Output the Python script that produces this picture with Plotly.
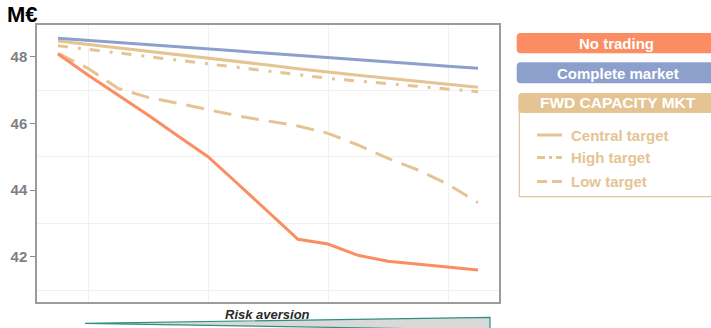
import plotly.graph_objects as go

# Risk-aversion steps along the x axis (unlabelled)
risk_levels = list(range(1, 16))

# Expected profit, M€
no_trading = [48.08, 47.45, 46.85, 46.25, 45.62, 45.00, 44.18, 43.35,
              42.52, 42.38, 42.04, 41.86, 41.78, 41.69, 41.60]
complete_market = [48.55, 48.49, 48.43, 48.36, 48.30, 48.23, 48.17, 48.10,
                   48.04, 47.97, 47.91, 47.84, 47.78, 47.71, 47.65]
central_target = [48.47, 48.37, 48.26, 48.16, 48.05, 47.95, 47.85, 47.75,
                  47.64, 47.53, 47.44, 47.35, 47.26, 47.17, 47.08]
high_target = [48.33, 48.22, 48.11, 48.00, 47.88, 47.77, 47.66, 47.55,
               47.45, 47.35, 47.27, 47.19, 47.11, 47.03, 46.95]
low_target = [48.10, 47.65, 47.05, 46.78, 46.60, 46.40, 46.22, 46.07,
              45.92, 45.70, 45.35, 44.95, 44.60, 44.17, 43.62]

y_ticks = [42, 44, 46, 48]
y_minor = [41, 43, 45, 47]
x_grid = [2, 6, 10, 14]

ORANGE = "#FC8D62"
BLUE = "#8DA0CB"
TAN = "#E5C494"
FONT = "Liberation Sans"

W, H = 711, 328
L, R, T, B = 37, 499, 25, 302


def px(x):
    return (x - L) / (R - L)


def py(y):
    return (B - y) / (B - T)


def pt(x, y):
    return f"{px(x):.5f},{py(y):.5f}"


def rounded_rect(x0, y0, x1, y1, r):
    return (f"M {pt(x0 + r, y0)} L {pt(x1 - r, y0)} Q {pt(x1, y0)} {pt(x1, y0 + r)} "
            f"L {pt(x1, y1 - r)} Q {pt(x1, y1)} {pt(x1 - r, y1)} "
            f"L {pt(x0 + r, y1)} Q {pt(x0, y1)} {pt(x0, y1 - r)} "
            f"L {pt(x0, y0 + r)} Q {pt(x0, y0)} {pt(x0 + r, y0)} Z")


fig = go.Figure()

series = [
    ("Low target", low_target, TAN, "18px,10px"),
    ("High target", high_target, TAN, "10px,10px,3px,9px"),
    ("Central target", central_target, TAN, "solid"),
    ("Complete market", complete_market, BLUE, "solid"),
    ("No trading", no_trading, ORANGE, "solid"),
]
for name, vals, col, dash in series:
    fig.add_trace(go.Scatter(x=risk_levels, y=vals, mode="lines", name=name,
                             line=dict(color=col, width=3, dash=dash)))

shapes = []
annotations = []

# Legend blocks on the right
shapes.append(dict(type="path", xref="paper", yref="paper",
                   path=rounded_rect(516.7, 33, 722, 53.3, 4),
                   fillcolor=ORANGE, line=dict(width=0)))
annotations.append(dict(text="<b>No trading</b>", x=px(616.5), y=py(43.3),
                        font=dict(size=15, color="white", family=FONT)))
shapes.append(dict(type="path", xref="paper", yref="paper",
                   path=rounded_rect(516.7, 62.3, 722, 83.3, 4),
                   fillcolor=BLUE, line=dict(width=0)))
annotations.append(dict(text="<b>Complete market</b>", x=px(617.5), y=py(73),
                        font=dict(size=15, color="white", family=FONT)))
# FWD capacity market group box
shapes.append(dict(type="rect", xref="paper", yref="paper",
                   x0=px(519.3), x1=px(725), y0=py(196.7), y1=py(105),
                   fillcolor="white", line=dict(color=TAN, width=1.2)))
shapes.append(dict(type="path", xref="paper", yref="paper",
                   path=rounded_rect(518.3, 93, 722, 113, 4),
                   fillcolor=TAN, line=dict(width=0)))
annotations.append(dict(text="<b>FWD CAPACITY MKT</b>", x=px(618), y=py(102.5),
                        font=dict(size=15.5, color="white", family=FONT)))

legend_rows = [("Central target", 135, "solid"),
               ("High target", 157.5, "8px,4px,3px,4px"),
               ("Low target", 181.5, "10px,5px")]
for label, yy, dash in legend_rows:
    shapes.append(dict(type="line", xref="paper", yref="paper",
                       x0=px(537), x1=px(562), y0=py(yy), y1=py(yy),
                       line=dict(color=TAN, width=3, dash=dash)))
    annotations.append(dict(text=f"<b>{label}</b>", x=px(569), y=py(yy),
                            xanchor="left",
                            font=dict(size=15, color=TAN, family=FONT)))

# Unit label
annotations.append(dict(text="<b>M€</b>", x=px(5), y=py(15), xanchor="left",
                        font=dict(size=22, color="black", family=FONT)))

# Risk aversion caption and wedge
annotations.append(dict(text="<b><i>Risk aversion</i></b>", x=px(267), y=py(314.5),
                        font=dict(size=13, color="#2b2b2b", family=FONT)))
shapes.append(dict(type="path", xref="paper", yref="paper",
                   path=f"M {pt(85, 323.3)} L {pt(490, 317.3)} L {pt(490, 330)} Z",
                   fillcolor="#d9d9d9", line=dict(color="#2f8f83", width=1.2)))

for a in annotations:
    a.update(xref="paper", yref="paper", showarrow=False)
    a.setdefault("xanchor", "center")
    a.setdefault("yanchor", "middle")

fig.update_layout(
    width=W, height=H,
    margin=dict(l=L, r=W - R, t=T, b=H - B),
    plot_bgcolor="white", paper_bgcolor="white",
    showlegend=False,
    font=dict(family=FONT),
    shapes=shapes,
    annotations=annotations,
    xaxis=dict(range=[0.3, 15.7], tickvals=x_grid, showticklabels=False, ticks="",
               showgrid=True, gridcolor="#f0f0f0", gridwidth=1, zeroline=False,
               showline=True, linecolor="#9b9b9b", linewidth=1.5, mirror=True),
    yaxis=dict(range=[40.64, 48.95], tickvals=y_ticks, ticks="outside", ticklen=5,
               tickcolor="#8a8a8a", tickwidth=1,
               tickfont=dict(size=15, color="#7f7f7f", family=FONT, weight="bold"),
               showgrid=False, zeroline=False,
               minor=dict(tickvals=y_minor, showgrid=True, gridcolor="#f0f0f0",
                          gridwidth=1, ticks=""),
               showline=True, linecolor="#9b9b9b", linewidth=1.5, mirror=True),
)

fig.write_html("out.html")
